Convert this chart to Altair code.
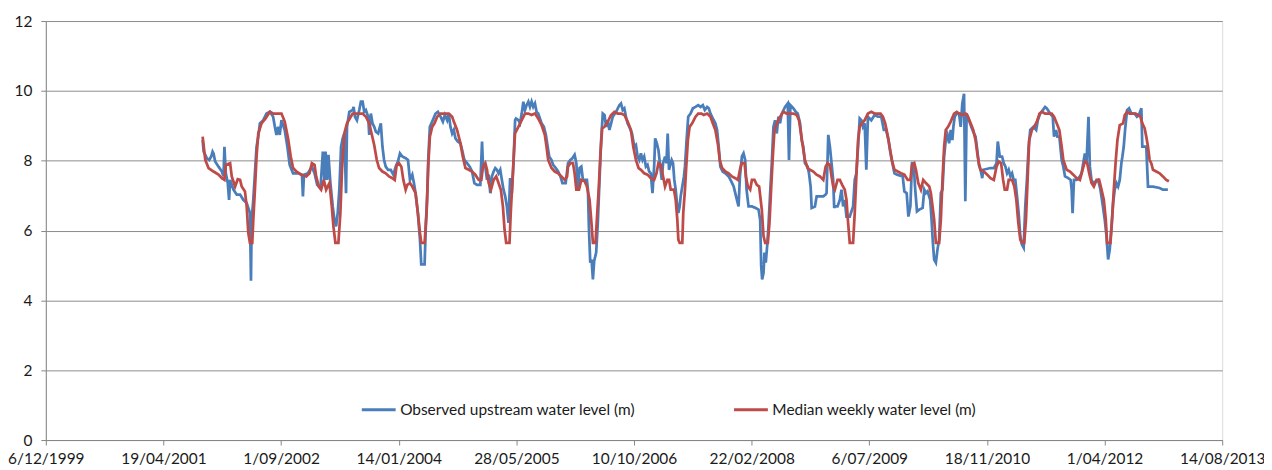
import altair as alt
import pandas as pd
from datetime import datetime, timedelta

# ---- data (decimal years, water level in m) ----
series_names = ["Observed upstream water level (m)", "Median weekly water level (m)"]
series_colors = ["#4A7EBB", "#BE4B48"]

tick_dates = ["1999-12-06", "2001-04-19", "2002-09-01", "2004-01-14", "2005-05-28",
              "2006-10-10", "2008-02-22", "2009-07-06", "2010-11-18", "2012-04-01",
              "2013-08-14"]
y_ticks = [0, 2, 4, 6, 8, 10, 12]

obs_t = [
    2001.752, 2001.764, 2001.802, 2001.829, 2001.852, 2001.868, 2001.879, 2001.898,
    2001.937, 2001.976, 2001.995, 2002.006, 2002.022, 2002.045, 2002.060, 2002.072,
    2002.111, 2002.149, 2002.188, 2002.226, 2002.265, 2002.284, 2002.303, 2002.315,
    2002.323, 2002.342, 2002.361, 2002.380, 2002.400, 2002.419, 2002.458, 2002.496,
    2002.535, 2002.573, 2002.593, 2002.612, 2002.631, 2002.650, 2002.670, 2002.708,
    2002.739, 2002.766, 2002.805, 2002.862, 2002.909, 2002.920, 2002.932, 2002.978,
    2003.024, 2003.055, 2003.086, 2003.125, 2003.152, 2003.171, 2003.183, 2003.202,
    2003.217, 2003.240, 2003.267, 2003.287, 2003.306, 2003.325, 2003.344, 2003.364,
    2003.383, 2003.402, 2003.422, 2003.433, 2003.460, 2003.499, 2003.510, 2003.526,
    2003.549, 2003.576, 2003.595, 2003.615, 2003.634, 2003.653, 2003.680, 2003.692,
    2003.711, 2003.730, 2003.750, 2003.769, 2003.796, 2003.827, 2003.846, 2003.865,
    2003.884, 2003.911, 2003.942, 2003.973, 2004.000, 2004.027, 2004.050, 2004.077,
    2004.116, 2004.143, 2004.166, 2004.193, 2004.212, 2004.231, 2004.258, 2004.282,
    2004.297, 2004.336, 2004.351, 2004.366, 2004.378, 2004.397, 2004.424, 2004.463,
    2004.490, 2004.521, 2004.548, 2004.571, 2004.598, 2004.617, 2004.636, 2004.656,
    2004.675, 2004.694, 2004.721, 2004.752, 2004.771, 2004.798, 2004.829, 2004.860,
    2004.887, 2004.914, 2004.945, 2004.983, 2005.003, 2005.014, 2005.041, 2005.061,
    2005.080, 2005.099, 2005.118, 2005.138, 2005.157, 2005.176, 2005.195, 2005.215,
    2005.234, 2005.253, 2005.273, 2005.292, 2005.311, 2005.330, 2005.350, 2005.369,
    2005.388, 2005.399, 2005.426, 2005.445, 2005.465, 2005.484, 2005.503, 2005.522,
    2005.542, 2005.561, 2005.580, 2005.599, 2005.619, 2005.638, 2005.657, 2005.677,
    2005.696, 2005.723, 2005.746, 2005.761, 2005.785, 2005.812, 2005.831, 2005.862,
    2005.889, 2005.916, 2005.939, 2005.977, 2006.004, 2006.031, 2006.055, 2006.081,
    2006.101, 2006.120, 2006.139, 2006.159, 2006.178, 2006.224, 2006.236, 2006.247,
    2006.263, 2006.278, 2006.294, 2006.309, 2006.332, 2006.351, 2006.371, 2006.390,
    2006.409, 2006.429, 2006.448, 2006.467, 2006.486, 2006.506, 2006.525, 2006.564,
    2006.602, 2006.621, 2006.641, 2006.660, 2006.679, 2006.698, 2006.718, 2006.749,
    2006.776, 2006.795, 2006.814, 2006.834, 2006.853, 2006.872, 2006.891, 2006.911,
    2006.930, 2006.949, 2006.968, 2006.988, 2007.007, 2007.019, 2007.038, 2007.057,
    2007.076, 2007.096, 2007.111, 2007.134, 2007.150, 2007.165, 2007.180, 2007.200,
    2007.211, 2007.227, 2007.242, 2007.258, 2007.277, 2007.289, 2007.304, 2007.316,
    2007.335, 2007.354, 2007.366, 2007.385, 2007.404, 2007.431, 2007.458, 2007.489,
    2007.520, 2007.547, 2007.574, 2007.597, 2007.624, 2007.643, 2007.663, 2007.690,
    2007.720, 2007.740, 2007.759, 2007.778, 2007.805, 2007.836, 2007.875, 2007.905,
    2007.933, 2007.952, 2007.971, 2007.990, 2008.006, 2008.029, 2008.048, 2008.067,
    2008.083, 2008.106, 2008.145, 2008.183, 2008.222, 2008.241, 2008.253, 2008.264,
    2008.280, 2008.291, 2008.306, 2008.322, 2008.337, 2008.357, 2008.376, 2008.395,
    2008.414, 2008.434, 2008.453, 2008.472, 2008.492, 2008.530, 2008.561, 2008.576,
    2008.592, 2008.627, 2008.654, 2008.677, 2008.704, 2008.723, 2008.742, 2008.761,
    2008.792, 2008.808, 2008.827, 2008.839, 2008.877, 2008.897, 2008.935, 2008.974,
    2009.001, 2009.012, 2009.032, 2009.051, 2009.070, 2009.089, 2009.101, 2009.109,
    2009.140, 2009.167, 2009.186, 2009.205, 2009.224, 2009.244, 2009.282, 2009.321,
    2009.340, 2009.359, 2009.379, 2009.398, 2009.417, 2009.436, 2009.456, 2009.475,
    2009.494, 2009.533, 2009.571, 2009.610, 2009.649, 2009.679, 2009.706, 2009.733,
    2009.756, 2009.783, 2009.803, 2009.834, 2009.899, 2009.918, 2009.945, 2009.965,
    2009.988, 2010.007, 2010.026, 2010.042, 2010.065, 2010.092, 2010.131, 2010.150,
    2010.169, 2010.188, 2010.219, 2010.235, 2010.250, 2010.265, 2010.285, 2010.304,
    2010.323, 2010.343, 2010.362, 2010.381, 2010.400, 2010.420, 2010.439, 2010.458,
    2010.477, 2010.489, 2010.504, 2010.528, 2010.555, 2010.574, 2010.593, 2010.613,
    2010.628, 2010.643, 2010.670, 2010.697, 2010.720, 2010.747, 2010.767, 2010.786,
    2010.805, 2010.825, 2010.836, 2010.921, 2010.960, 2010.991, 2011.006, 2011.029,
    2011.056, 2011.075, 2011.095, 2011.114, 2011.133, 2011.153, 2011.172, 2011.191,
    2011.210, 2011.230, 2011.249, 2011.268, 2011.287, 2011.307, 2011.326, 2011.345,
    2011.365, 2011.384, 2011.422, 2011.453, 2011.472, 2011.499, 2011.530, 2011.557,
    2011.577, 2011.615, 2011.646, 2011.661, 2011.685, 2011.700, 2011.723, 2011.750,
    2011.769, 2011.789, 2011.827, 2011.854, 2011.866, 2011.877, 2011.893, 2011.924,
    2011.962, 2011.982, 2012.001, 2012.020, 2012.039, 2012.062, 2012.078, 2012.097,
    2012.116, 2012.174, 2012.201, 2012.224, 2012.251, 2012.271, 2012.290, 2012.309,
    2012.329, 2012.348, 2012.367, 2012.386, 2012.406, 2012.425, 2012.444, 2012.456,
    2012.471, 2012.487, 2012.510, 2012.533, 2012.560, 2012.598, 2012.625, 2012.648,
    2012.676, 2012.687, 2012.733, 2012.753, 2012.811, 2012.888, 2012.926, 2012.984,
]
obs_v = [
    8.59, 8.26, 8.07, 8.02, 8.12, 8.26, 8.21, 7.98,
    7.83, 7.69, 7.55, 8.40, 7.64, 7.36, 6.88, 7.45,
    7.17, 7.03, 7.03, 6.88, 6.79, 6.65, 6.50, 4.56,
    6.31, 6.88, 7.64, 8.40, 8.69, 9.07, 9.16, 9.35,
    9.40, 9.26, 8.97, 8.74, 8.97, 8.74, 9.16, 8.88,
    8.40, 7.88, 7.64, 7.64, 7.60, 6.98, 7.60, 7.64,
    7.83, 7.64, 7.31, 7.22, 8.26, 7.45, 8.26, 7.45,
    8.17, 7.36, 6.69, 6.31, 6.12, 6.50, 7.17, 8.40,
    8.64, 8.78, 7.07, 8.97, 9.40, 9.45, 9.54, 9.26,
    9.16, 9.45, 9.69, 9.69, 9.40, 9.45, 9.26, 8.74,
    9.35, 9.07, 8.97, 8.83, 8.78, 9.07, 8.40, 8.02,
    7.83, 7.74, 7.74, 7.60, 7.83, 7.98, 8.21, 8.12,
    8.07, 8.02, 7.45, 7.60, 7.36, 7.07, 6.50, 5.74,
    5.03, 5.03, 6.22, 6.98, 8.02, 8.97, 9.12, 9.35,
    9.40, 9.26, 9.12, 9.31, 9.16, 9.35, 8.97, 8.78,
    8.88, 8.64, 8.55, 8.50, 8.31, 8.02, 7.93, 7.83,
    7.69, 7.36, 7.31, 7.31, 8.55, 7.83, 7.83, 7.45,
    7.60, 7.07, 7.55, 7.69, 7.79, 7.74, 7.64, 7.74,
    7.45, 7.17, 6.98, 6.69, 6.22, 7.50, 7.07, 7.93,
    9.16, 9.21, 9.16, 9.07, 9.35, 9.69, 9.45, 9.59,
    9.69, 9.54, 9.69, 9.54, 9.64, 9.40, 9.35, 9.21,
    9.07, 8.97, 8.74, 8.50, 8.12, 8.02, 7.88, 7.79,
    7.69, 7.55, 7.36, 7.36, 7.93, 8.02, 8.07, 8.17,
    7.93, 7.17, 7.79, 7.83, 7.45, 7.45, 7.17, 6.12,
    5.08, 5.17, 4.60, 5.13, 5.37, 6.22, 7.45, 8.59,
    9.35, 9.31, 8.97, 9.16, 8.88, 9.07, 9.26, 9.40,
    9.59, 9.64, 9.45, 9.50, 9.26, 9.07, 8.97, 8.78,
    8.40, 8.45, 8.12, 8.02, 8.21, 8.02, 8.12, 7.83,
    7.88, 7.69, 7.64, 7.07, 7.83, 8.64, 8.50, 8.31,
    7.88, 7.45, 7.93, 8.12, 7.93, 8.78, 7.74, 7.93,
    8.02, 7.93, 7.45, 7.17, 6.69, 6.50, 6.69, 6.98,
    7.26, 7.55, 7.83, 8.59, 9.26, 9.35, 9.50, 9.54,
    9.59, 9.54, 9.59, 9.45, 9.54, 9.50, 9.35, 9.21,
    9.07, 8.88, 8.40, 7.83, 7.69, 7.64, 7.55, 7.41,
    7.26, 7.07, 6.88, 6.69, 7.55, 8.12, 8.21, 8.02,
    7.17, 6.69, 6.69, 6.65, 6.60, 6.31, 4.98, 4.60,
    4.79, 5.37, 5.08, 5.55, 6.12, 7.07, 7.93, 8.97,
    9.16, 8.78, 9.26, 9.07, 9.35, 9.54, 9.64, 8.02,
    9.59, 9.50, 9.40, 9.35, 9.07, 8.59, 8.40, 7.93,
    7.83, 7.64, 7.26, 6.65, 6.69, 6.98, 6.98, 6.98,
    7.03, 7.07, 8.74, 8.40, 7.93, 7.45, 6.65, 6.69,
    6.69, 6.88, 7.17, 6.69, 6.88, 6.40, 6.40, 6.69,
    7.45, 7.64, 8.40, 9.21, 9.16, 8.97, 9.07, 7.74,
    9.26, 9.16, 9.31, 9.26, 9.26, 8.88, 8.88, 8.59,
    8.21, 7.88, 7.64, 7.60, 7.55, 7.12, 7.07, 6.40,
    6.69, 7.93, 7.93, 7.26, 6.55, 6.60, 6.65, 7.17,
    7.07, 7.12, 6.88, 6.31, 5.65, 5.17, 5.08, 5.46,
    5.74, 7.07, 7.17, 8.12, 8.59, 8.74, 8.50, 8.88,
    8.59, 8.97, 9.26, 9.35, 9.35, 8.97, 9.64, 9.92,
    6.84, 9.35, 9.16, 8.97, 8.83, 8.69, 8.31, 7.88,
    7.74, 7.50, 7.74, 7.79, 7.79, 7.93, 8.55, 8.12,
    8.12, 7.93, 7.83, 7.64, 7.74, 7.55, 7.64, 7.45,
    7.45, 6.98, 6.50, 5.84, 5.60, 5.51, 6.69, 7.45,
    8.40, 8.88, 8.97, 8.88, 9.16, 9.35, 9.45, 9.54,
    9.50, 9.35, 9.26, 8.69, 8.88, 8.69, 8.69, 8.02,
    7.83, 7.55, 7.50, 7.45, 7.17, 6.50, 7.45, 7.45,
    7.55, 7.64, 7.93, 8.21, 7.93, 9.26, 7.83, 7.45,
    7.36, 7.45, 7.17, 6.79, 6.31, 5.84, 5.17, 5.46,
    6.12, 6.79, 7.17, 7.36, 7.26, 7.45, 7.93, 8.12,
    8.40, 8.88, 9.45, 9.50, 9.35, 9.35, 9.26, 9.31,
    9.50, 8.40, 8.40, 7.26, 7.26, 7.22, 7.17, 7.17,
]

med_t = [
    2001.752, 2001.783, 2001.821, 2001.879, 2001.937, 2001.976, 2002.006, 2002.022,
    2002.072, 2002.091, 2002.130, 2002.161, 2002.188, 2002.207, 2002.245, 2002.265,
    2002.284, 2002.303, 2002.330, 2002.342, 2002.361, 2002.380, 2002.400, 2002.438,
    2002.485, 2002.535, 2002.573, 2002.612, 2002.670, 2002.708, 2002.747, 2002.778,
    2002.805, 2002.843, 2002.901, 2002.959, 2002.997, 2003.024, 2003.055, 2003.074,
    2003.105, 2003.132, 2003.163, 2003.190, 2003.229, 2003.256, 2003.275, 2003.298,
    2003.333, 2003.356, 2003.375, 2003.402, 2003.433, 2003.499, 2003.557, 2003.615,
    2003.653, 2003.692, 2003.719, 2003.750, 2003.780, 2003.807, 2003.846, 2003.884,
    2003.923, 2003.962, 2003.989, 2004.012, 2004.039, 2004.066, 2004.089, 2004.116,
    2004.135, 2004.166, 2004.193, 2004.231, 2004.258, 2004.282, 2004.297, 2004.336,
    2004.359, 2004.378, 2004.397, 2004.424, 2004.451, 2004.482, 2004.521, 2004.578,
    2004.617, 2004.656, 2004.675, 2004.713, 2004.752, 2004.779, 2004.810, 2004.848,
    2004.887, 2004.925, 2004.964, 2004.995, 2005.014, 2005.041, 2005.061, 2005.080,
    2005.107, 2005.138, 2005.168, 2005.195, 2005.222, 2005.246, 2005.265, 2005.284,
    2005.323, 2005.337, 2005.360, 2005.387, 2005.426, 2005.465, 2005.503, 2005.542,
    2005.580, 2005.619, 2005.657, 2005.696, 2005.734, 2005.754, 2005.773, 2005.812,
    2005.850, 2005.889, 2005.927, 2005.966, 2005.993, 2006.004, 2006.031, 2006.062,
    2006.081, 2006.101, 2006.132, 2006.159, 2006.197, 2006.224, 2006.255, 2006.274,
    2006.294, 2006.324, 2006.340, 2006.363, 2006.382, 2006.402, 2006.429, 2006.467,
    2006.506, 2006.544, 2006.583, 2006.621, 2006.660, 2006.698, 2006.737, 2006.764,
    2006.795, 2006.826, 2006.853, 2006.891, 2006.930, 2006.968, 2007.007, 2007.034,
    2007.057, 2007.084, 2007.111, 2007.134, 2007.161, 2007.181, 2007.200, 2007.238,
    2007.258, 2007.277, 2007.289, 2007.304, 2007.335, 2007.346, 2007.366, 2007.381,
    2007.400, 2007.420, 2007.450, 2007.489, 2007.520, 2007.558, 2007.585, 2007.624,
    2007.663, 2007.690, 2007.720, 2007.751, 2007.771, 2007.798, 2007.836, 2007.875,
    2007.913, 2007.952, 2007.983, 2008.010, 2008.029, 2008.060, 2008.075, 2008.098,
    2008.125, 2008.145, 2008.175, 2008.202, 2008.229, 2008.260, 2008.280, 2008.299,
    2008.330, 2008.349, 2008.368, 2008.388, 2008.407, 2008.434, 2008.472, 2008.511,
    2008.549, 2008.588, 2008.627, 2008.665, 2008.692, 2008.715, 2008.734, 2008.761,
    2008.792, 2008.819, 2008.858, 2008.896, 2008.935, 2008.974, 2009.001, 2009.024,
    2009.051, 2009.070, 2009.089, 2009.109, 2009.140, 2009.167, 2009.194, 2009.224,
    2009.244, 2009.263, 2009.282, 2009.321, 2009.340, 2009.359, 2009.379, 2009.398,
    2009.425, 2009.456, 2009.494, 2009.533, 2009.571, 2009.610, 2009.641, 2009.668,
    2009.695, 2009.726, 2009.753, 2009.776, 2009.803, 2009.841, 2009.880, 2009.918,
    2009.957, 2009.988, 2010.007, 2010.034, 2010.053, 2010.080, 2010.111, 2010.138,
    2010.169, 2010.208, 2010.227, 2010.246, 2010.265, 2010.285, 2010.323, 2010.343,
    2010.362, 2010.381, 2010.400, 2010.427, 2010.458, 2010.497, 2010.528, 2010.555,
    2010.593, 2010.632, 2010.659, 2010.690, 2010.720, 2010.747, 2010.767, 2010.786,
    2010.805, 2010.844, 2010.883, 2010.921, 2010.960, 2010.991, 2011.018, 2011.045,
    2011.068, 2011.087, 2011.114, 2011.133, 2011.172, 2011.199, 2011.222, 2011.245,
    2011.268, 2011.287, 2011.314, 2011.334, 2011.353, 2011.372, 2011.403, 2011.430,
    2011.461, 2011.492, 2011.519, 2011.557, 2011.596, 2011.634, 2011.661, 2011.692,
    2011.723, 2011.750, 2011.769, 2011.808, 2011.847, 2011.885, 2011.924, 2011.962,
    2011.993, 2012.020, 2012.047, 2012.070, 2012.097, 2012.124, 2012.155, 2012.186,
    2012.213, 2012.240, 2012.263, 2012.278, 2012.317, 2012.336, 2012.356, 2012.379,
    2012.398, 2012.425, 2012.464, 2012.483, 2012.510, 2012.541, 2012.579, 2012.610,
    2012.637, 2012.664, 2012.687, 2012.714, 2012.733, 2012.753, 2012.772, 2012.791,
    2012.811, 2012.849, 2012.888, 2012.926, 2012.965, 2012.996,
]
med_v = [
    8.69, 8.02, 7.79, 7.69, 7.60, 7.50, 7.45, 7.88,
    7.93, 7.55, 7.26, 7.47, 7.45, 7.26, 7.12, 6.69,
    5.93, 5.65, 5.65, 6.31, 7.17, 8.12, 8.78, 9.07,
    9.21, 9.40, 9.35, 9.35, 9.35, 9.12, 8.64, 8.12,
    7.79, 7.69, 7.60, 7.55, 7.64, 7.93, 7.88, 7.55,
    7.26, 7.17, 7.45, 7.17, 7.36, 6.69, 6.12, 5.65,
    5.65, 6.50, 7.74, 8.78, 9.07, 9.35, 9.35, 9.35,
    9.26, 9.07, 8.78, 8.45, 8.02, 7.79, 7.69, 7.64,
    7.55, 7.50, 7.45, 7.88, 7.93, 7.83, 7.45, 7.17,
    7.31, 7.36, 7.26, 7.07, 6.50, 5.93, 5.65, 5.65,
    6.50, 7.83, 8.69, 8.97, 9.07, 9.26, 9.35, 9.35,
    9.35, 9.26, 9.12, 8.88, 8.50, 8.12, 7.79, 7.74,
    7.69, 7.60, 7.45, 7.45, 7.83, 7.93, 7.74, 7.36,
    7.17, 7.45, 7.55, 7.36, 7.17, 6.69, 6.03, 5.65,
    5.65, 6.50, 7.55, 8.78, 8.97, 9.16, 9.35, 9.35,
    9.31, 9.35, 9.21, 9.02, 8.74, 8.40, 8.02, 7.79,
    7.69, 7.64, 7.55, 7.45, 7.55, 7.83, 7.93, 7.93,
    7.64, 7.17, 7.17, 7.45, 7.41, 7.26, 6.88, 6.31,
    5.65, 5.65, 6.31, 7.26, 8.21, 8.93, 8.97, 9.12,
    9.31, 9.40, 9.35, 9.35, 9.31, 9.12, 8.88, 8.40,
    8.02, 7.79, 7.74, 7.64, 7.60, 7.50, 7.45, 7.64,
    7.93, 7.88, 7.55, 7.26, 7.45, 7.45, 7.17, 7.17,
    6.88, 6.31, 5.74, 5.65, 5.65, 6.50, 7.17, 7.83,
    8.59, 8.97, 9.07, 9.26, 9.35, 9.35, 9.31, 9.35,
    9.26, 9.07, 8.88, 8.45, 8.02, 7.79, 7.69, 7.64,
    7.55, 7.50, 7.45, 7.79, 7.93, 7.93, 7.55, 7.26,
    7.17, 7.45, 7.45, 7.31, 7.26, 6.60, 5.84, 5.65,
    5.65, 6.22, 7.17, 8.12, 8.88, 9.07, 9.26, 9.40,
    9.35, 9.35, 9.35, 9.31, 9.16, 8.78, 8.45, 8.02,
    7.79, 7.74, 7.69, 7.60, 7.55, 7.45, 7.83, 7.93,
    7.88, 7.55, 7.26, 7.17, 7.45, 7.45, 7.31, 7.17,
    6.88, 6.22, 5.65, 5.65, 6.50, 7.55, 8.59, 8.97,
    9.07, 9.16, 9.35, 9.40, 9.35, 9.35, 9.35, 9.26,
    9.07, 8.69, 8.31, 7.98, 7.74, 7.69, 7.64, 7.60,
    7.45, 7.45, 7.88, 7.93, 7.74, 7.36, 7.17, 7.45,
    7.36, 7.26, 7.07, 6.69, 6.31, 5.65, 5.65, 6.31,
    7.45, 8.40, 8.88, 8.97, 9.12, 9.35, 9.40, 9.35,
    9.31, 9.35, 9.26, 9.07, 8.88, 8.59, 8.21, 7.93,
    7.74, 7.69, 7.60, 7.50, 7.45, 7.83, 7.98, 7.93,
    7.45, 7.17, 7.17, 7.45, 7.45, 7.26, 6.88, 6.22,
    5.74, 5.65, 5.65, 6.31, 7.45, 8.59, 8.88, 8.97,
    9.12, 9.35, 9.40, 9.35, 9.35, 9.35, 9.26, 9.07,
    8.88, 8.40, 8.02, 7.74, 7.69, 7.60, 7.50, 7.45,
    7.74, 7.98, 7.93, 7.64, 7.36, 7.26, 7.45, 7.45,
    7.17, 6.88, 6.31, 5.65, 5.65, 6.31, 7.17, 8.02,
    8.59, 9.02, 9.07, 9.31, 9.40, 9.35, 9.35, 9.35,
    9.31, 9.26, 9.07, 8.93, 8.69, 8.40, 8.02, 7.93,
    7.74, 7.69, 7.64, 7.55, 7.45, 7.41,
]

assert len(obs_t) == len(obs_v), (len(obs_t), len(obs_v))
assert len(med_t) == len(med_v), (len(med_t), len(med_v))


def to_iso(t):
    y = int(t)
    start = datetime(y, 1, 1)
    days = (datetime(y + 1, 1, 1) - start).days
    d = start + timedelta(days=(t - y) * days)
    return d.strftime("%Y-%m-%dT%H:%M:%SZ")


obs_df = pd.DataFrame({"date": [to_iso(t) for t in obs_t], "level": obs_v,
                       "series": series_names[0]})
med_df = pd.DataFrame({"date": [to_iso(t) for t in med_t], "level": med_v,
                       "series": series_names[1]})

FONT = "Lato"

x_enc = alt.X(
    "date:T",
    scale=alt.Scale(type="utc", domain=[tick_dates[0] + "T00:00:00Z", tick_dates[-1] + "T00:00:00Z"], nice=False),
    axis=alt.Axis(
        values=[d + "T00:00:00Z" for d in tick_dates],
        labelExpr="utcFormat(datum.value, '%-d/%m/%Y')", title=None, grid=False,
        tickSize=5, tickColor="#868686", domainColor="#868686",
        labelPadding=7, labelFontSize=15.5, labelFont=FONT, labelColor="#1a1a1a",
        labelOverlap=False, labelFlush=False,
    ),
)
y_enc = alt.Y(
    "level:Q",
    scale=alt.Scale(domain=[0, 12], nice=False, zero=True),
    axis=alt.Axis(
        values=y_ticks, format="d", title=None, grid=True, gridColor="#8c8c8c",
        gridWidth=1, tickSize=5, tickColor="#868686", domainColor="#868686",
        labelPadding=9, labelFontSize=15.5, labelFont=FONT, labelColor="#1a1a1a",
    ),
)
color_enc = alt.Color(
    "series:N",
    scale=alt.Scale(domain=series_names, range=series_colors),
    legend=alt.Legend(
        title=None, orient="none", legendX=316, legendY=372, direction="horizontal",
        columns=2, symbolType="stroke", symbolSize=1156, symbolStrokeWidth=3,
        labelFont=FONT, labelFontSize=15.5, labelColor="#1a1a1a", labelOffset=3,
        columnPadding=92, padding=0, labelLimit=400,
    ),
)

obs_line = alt.Chart(obs_df).mark_line(strokeWidth=2.75).encode(x=x_enc, y=y_enc, color=color_enc)
med_line = alt.Chart(med_df).mark_line(strokeWidth=2.75).encode(x=x_enc, y=y_enc, color=color_enc)

chart = alt.layer(obs_line, med_line).properties(
    width=1182, height=421,
    autosize=alt.AutoSizeParams(type="none"),
    padding={"left": 38, "top": 12, "right": 42, "bottom": 29},
).configure_view(stroke=None).configure(background="white")

chart.save("out.html", embed_options={"renderer": "svg", "actions": False})
